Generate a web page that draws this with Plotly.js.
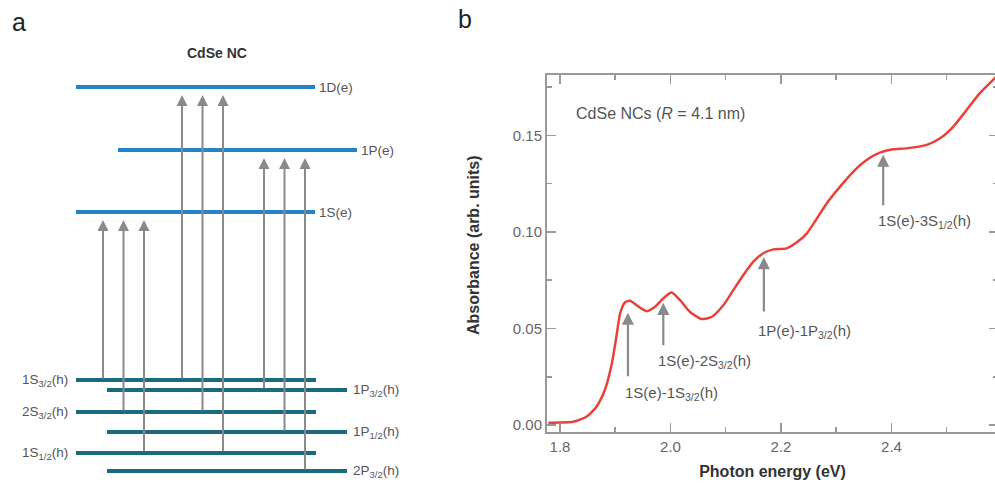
<!DOCTYPE html>
<html>
<head>
<meta charset="utf-8">
<script src="https://cdn.plot.ly/plotly-3.0.1.min.js"></script>
<style>
html,body{margin:0;padding:0;overflow:hidden;background:#fff;}
#chart{width:1000px;height:495px;}
</style>
</head>
<body>
<div id="chart"></div>
<script>
// ---------------- DATA ----------------
// Panel a: energy levels (arbitrary energy units)
const electronLevels = ['1D(e)', '1P(e)', '1S(e)'];
const electronEnergy = [39.3, 33.0, 26.8];
const holeLevels = ['1S<sub>3/2</sub>(h)', '1P<sub>3/2</sub>(h)', '2S<sub>3/2</sub>(h)', '1P<sub>1/2</sub>(h)', '1S<sub>1/2</sub>(h)', '2P<sub>3/2</sub>(h)'];
const holeEnergy = [10.0, 9.0, 6.8, 4.8, 2.7, 0.9];
// transitions: target electron level index, source hole level indices
const transitionTarget = [2, 0, 1];
const transitionSources = [[0, 2, 4], [0, 2, 4], [1, 3, 5]];

// Panel b: absorption spectrum
const energy = [1.779, 1.800, 1.824, 1.848, 1.866, 1.881, 1.894, 1.903, 1.909, 1.918, 1.927, 1.939, 1.957, 1.972, 1.987, 2.002, 2.017, 2.035, 2.056, 2.075, 2.096, 2.114, 2.132, 2.150, 2.168, 2.186, 2.210, 2.228, 2.247, 2.265, 2.283, 2.307, 2.331, 2.355, 2.379, 2.403, 2.427, 2.464, 2.488, 2.512, 2.536, 2.560, 2.584, 2.596];
const absorbance = [0.0012, 0.0013, 0.0017, 0.0043, 0.0095, 0.018, 0.032, 0.0475, 0.058, 0.0636, 0.0644, 0.062, 0.059, 0.0613, 0.0656, 0.0686, 0.0648, 0.0587, 0.0549, 0.0561, 0.0622, 0.070, 0.0777, 0.0846, 0.089, 0.091, 0.0915, 0.0945, 0.0993, 0.107, 0.1149, 0.1235, 0.1313, 0.1373, 0.1411, 0.1428, 0.1433, 0.1451, 0.1485, 0.1546, 0.1632, 0.1719, 0.1788, 0.1825];
const peakLabels = ['1S(e)-1S<sub>3/2</sub>(h)', '1S(e)-2S<sub>3/2</sub>(h)', '1P(e)-1P<sub>3/2</sub>(h)', '1S(e)-3S<sub>1/2</sub>(h)'];
const peakEnergy = [1.923, 1.987, 2.169, 2.385];
const peakTip = [0.0582, 0.0633, 0.0870, 0.1400];
const xTickVals = [1.8, 2.0, 2.2, 2.4];
const yTickVals = [0.00, 0.05, 0.10, 0.15];

// ---------------- STYLE / LAYOUT ----------------
const W = 1000, H = 495;
const FONT = 'Liberation Sans, Arial, Helvetica, sans-serif';
const eColor = '#2385c6', hColor = '#1b6b80', arrowGray = '#8a8a8a';
const leftStart = 76, leftEnd = 316;
const holePShift = 31, elecPShift = 42;
const groupStart = [103, 182, 264];
const groupStep = 20.5;
const tipGap = 0.8;

function isP(name){ return name.indexOf('P') === 1; }

// level lines
const ex = [], ey = [], hx = [], hy = [];
electronLevels.forEach((n, i) => {
  const s = isP(n) ? elecPShift : 0;
  ex.push(leftStart + s, leftEnd + s - 1, null);
  ey.push(electronEnergy[i], electronEnergy[i], null);
});
holeLevels.forEach((n, i) => {
  const s = isP(n) ? holePShift : 0;
  hx.push(leftStart + s, leftEnd + s, null);
  hy.push(holeEnergy[i], holeEnergy[i], null);
});

const traces = [
  {x: ex, y: ey, xaxis: 'x2', yaxis: 'y2', mode: 'lines', line: {color: eColor, width: 4}, hoverinfo: 'skip', showlegend: false},
  {x: hx, y: hy, xaxis: 'x2', yaxis: 'y2', mode: 'lines', line: {color: hColor, width: 4}, hoverinfo: 'skip', showlegend: false},
  {x: energy, y: absorbance, xaxis: 'x', yaxis: 'y', mode: 'lines', line: {color: '#e8413a', width: 2.5, shape: 'spline', smoothing: 0.6}, hoverinfo: 'skip', showlegend: false}
];

const ann = [];
// panel labels
ann.push({text: 'a', xref: 'paper', yref: 'paper', x: 10/W, y: 1 - 22/H, xanchor: 'left', yanchor: 'middle', showarrow: false, font: {family: FONT, size: 25, color: '#222'}});
ann.push({text: 'b', xref: 'paper', yref: 'paper', x: 456/W, y: 1 - 19/H, xanchor: 'left', yanchor: 'middle', showarrow: false, font: {family: FONT, size: 25, color: '#222'}});
// panel a title
ann.push({text: '<b>CdSe NC</b>', xref: 'paper', yref: 'paper', x: 217/W, y: 1 - 53/H, xanchor: 'center', yanchor: 'middle', showarrow: false, font: {family: FONT, size: 14, color: '#333'}});
// electron level labels
electronLevels.forEach((n, i) => {
  const s = isP(n) ? elecPShift : 0;
  ann.push({text: n, xref: 'x2', yref: 'y2', x: leftEnd + s + 1, y: electronEnergy[i], xanchor: 'left', yanchor: 'middle', showarrow: false, font: {family: FONT, size: 13.5, color: '#555'}});
});
holeLevels.forEach((n, i) => {
  const p = isP(n);
  ann.push({text: n, xref: 'x2', yref: 'y2', x: p ? leftEnd + holePShift + 4 : leftStart - 6, y: holeEnergy[i], xanchor: p ? 'left' : 'right', yanchor: 'middle', showarrow: false, font: {family: FONT, size: 13.5, color: '#555'}});
});
// transition arrows
transitionTarget.forEach((t, g) => {
  transitionSources[g].forEach((h, k) => {
    const xx = groupStart[g] + k * groupStep;
    ann.push({text: '', xref: 'x2', yref: 'y2', axref: 'x2', ayref: 'y2', x: xx, y: electronEnergy[t] - tipGap, ax: xx, ay: holeEnergy[h], showarrow: true, arrowhead: 2, arrowsize: 1.1, arrowwidth: 2, arrowcolor: arrowGray});
  });
});
// panel b inset text
ann.push({text: 'CdSe NCs (<i>R</i> = 4.1 nm)', xref: 'paper', yref: 'paper', x: 574/W, y: 1 - 113/H, xanchor: 'left', yanchor: 'middle', showarrow: false, font: {family: FONT, size: 16, color: '#555'}});
// panel b peak arrows and labels
const arrowLen = [65, 44, 56, 52];
const labelGap = [4, 3, 7, 3];
const labelShift = [-5, -7, -8, -7];
peakLabels.forEach((lab, i) => {
  ann.push({text: '', xref: 'x', yref: 'y', x: peakEnergy[i], y: peakTip[i], ax: 0, ay: arrowLen[i], showarrow: true, arrowhead: 2, arrowsize: 1.1, arrowwidth: 2.2, arrowcolor: arrowGray});
  ann.push({text: lab, xref: 'x', yref: 'y', x: peakEnergy[i], y: peakTip[i], xshift: labelShift[i], yshift: -(arrowLen[i] + labelGap[i]), xanchor: 'left', yanchor: 'top', showarrow: false, font: {family: FONT, size: 15, color: '#555'}});
});
// y axis title
ann.push({text: '<b>Absorbance (arb. units)</b>', xref: 'paper', yref: 'paper', x: 473/W, y: 1 - 245/H, xanchor: 'center', yanchor: 'middle', textangle: -90, showarrow: false, font: {family: FONT, size: 16, color: '#333'}});

const axisLine = '#999';
const layout = {
  width: W, height: H,
  margin: {l: 0, r: 0, t: 0, b: 0},
  paper_bgcolor: '#fff', plot_bgcolor: 'rgba(0,0,0,0)',
  showlegend: false,
  xaxis: {
    domain: [547/W, 998/W], range: [1.7765, 2.5928],
    tickvals: xTickVals, ticktext: xTickVals.map(v => v.toFixed(1)),
    ticks: 'inside', ticklen: 9, tickwidth: 1.5, tickcolor: axisLine,
    minor: {tickvals: [1.9, 2.1, 2.3, 2.5], ticks: 'inside', ticklen: 5, tickwidth: 1.5, tickcolor: axisLine, showgrid: false},
    showline: true, linecolor: axisLine, linewidth: 2, mirror: 'ticks',
    showgrid: false, zeroline: false,
    tickfont: {family: FONT, size: 15, color: '#666'},
    title: {text: '<b>Photon energy (eV)</b>', font: {family: FONT, size: 16, color: '#333'}, standoff: 12}
  },
  yaxis: {
    domain: [1 - 432/H, 1 - 75/H], range: [-0.0036, 0.1813],
    tickvals: yTickVals, ticktext: yTickVals.map(v => v.toFixed(2)),
    ticks: 'inside', ticklen: 9, tickwidth: 1.5, tickcolor: axisLine,
    minor: {tickvals: [0.025, 0.075, 0.125, 0.175], ticks: 'inside', ticklen: 5, tickwidth: 1.5, tickcolor: axisLine, showgrid: false},
    showline: true, linecolor: axisLine, linewidth: 2, mirror: 'ticks',
    showgrid: false, zeroline: false,
    tickfont: {family: FONT, size: 15, color: '#666'}
  },
  xaxis2: {domain: [0, 0.42], range: [0, 420], visible: false, fixedrange: true},
  yaxis2: {domain: [0, 1], range: [-1.5, 48], visible: false, fixedrange: true, anchor: 'x2'},
  annotations: ann
};
layout.xaxis2.anchor = 'y2';

Plotly.newPlot('chart', traces, layout, {staticPlot: true, displayModeBar: false});
</script>
</body>
</html>
